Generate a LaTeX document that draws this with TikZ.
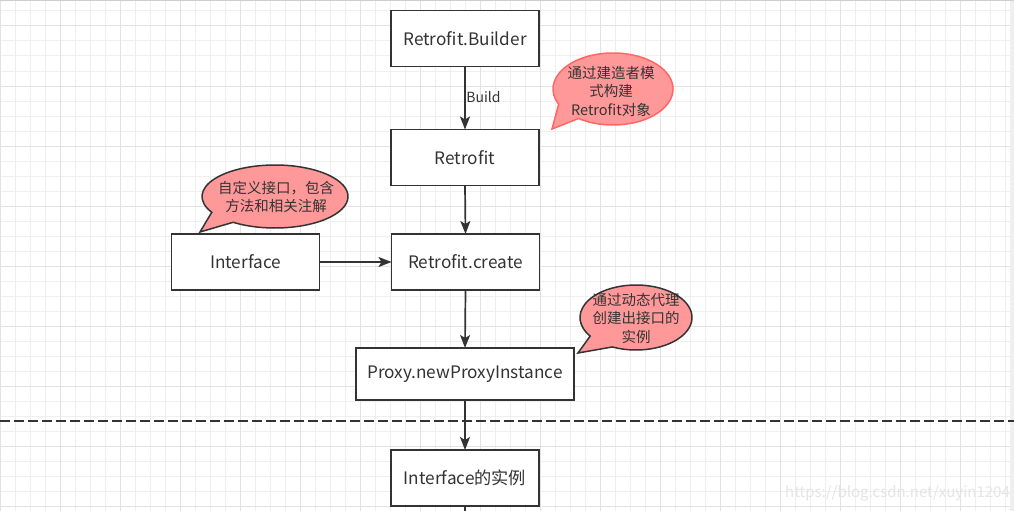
\documentclass[tikz,border=0pt]{standalone}
\usepackage{fontspec}
\setmainfont{Noto Sans CJK SC}
\usetikzlibrary{arrows.meta}
\definecolor{ink}{HTML}{333333}
\definecolor{gridminor}{HTML}{EFEFEF}
\definecolor{gridmajor}{HTML}{E2E2E2}
\definecolor{bubble}{HTML}{FF9999}
\definecolor{bubbleline}{HTML}{FF6666}
\tikzset{
  stepbox/.style={draw=ink, line width=1.8pt, fill=white, text=ink, outer sep=0pt,
    minimum width=148pt, minimum height=56pt, inner sep=0pt,
    font=\fontsize{17.2}{20}\selectfont},
  conn/.style={draw=ink, line width=1.7pt, -{Stealth[length=13pt,width=10pt,inset=3pt]}},
  plainconn/.style={draw=ink, line width=1.7pt},
  bubbleA/.style={fill=bubble, draw=bubbleline, line width=1.5pt},
  bubbleB/.style={fill=bubble, draw=ink, line width=1.5pt},
  calltext/.style={text=ink, align=center, inner sep=0pt,
    font=\fontsize{14.5}{18.5}\selectfont},
  gminor/.style={draw=gridminor, line width=1pt},
  gmajor/.style={draw=gridmajor, line width=1pt},
}
\begin{document}
\begin{tikzpicture}[x=1pt,y=1pt]
\path[use as bounding box] (0,0) rectangle (1014,-511);
\begin{scope}
\clip (0,0) rectangle (1014,-511);
\fill[white] (0,0) rectangle (1014,-511);
% grid
\foreach \x in {0,15,...,1005} \draw[gminor] (\x,0) -- (\x,-511);
\foreach \y in {11,26,...,506} \draw[gminor] (0,-\y) -- (1014,-\y);
\foreach \x in {0,60,...,960} \draw[gmajor] (\x,0) -- (\x,-511);
\foreach \y in {26,86,...,506} \draw[gmajor] (0,-\y) -- (1014,-\y);
\fill[gridminor] (1010,0) rectangle (1014,-511);
\draw[draw=gridmajor!80!gray, line width=1.5pt] (0,0) -- (1014,0);

% dashed separator
\coordinate (dl) at (0,-421);
\coordinate (dr) at (1014,-421);
\draw[draw=ink, line width=2pt, dash pattern=on 10pt off 4pt] (dl) -- (dr);

% boxes
\node[stepbox] (builder) at (465,-38.5) {Retrofit.Builder};
\node[stepbox] (retrofit) at (465,-157.5) {Retrofit};
\node[stepbox] (create) at (465.5,-262) {Retrofit.create};
\node[stepbox] (iface) at (245.5,-262) {Interface};
\node[stepbox, minimum width=218pt, minimum height=52pt] (proxy) at (465,-374) {Proxy.newProxyInstance};
\node[stepbox] (inst) at (465,-478) {Interface的实例};
\coordinate (below) at (465,-515);

% connectors
\draw[conn] (builder.south) -- node[right, text=ink, font=\fontsize{14}{16}\selectfont, inner sep=1pt, xshift=-0.5pt, yshift=1pt] (buildlbl) {Build} (retrofit.north);
\draw[conn] (retrofit.south) -- (create.north);
\draw[conn] (iface.east) -- (create.west);
\draw[conn] (create.south) -- (proxy.north);
\draw[conn] (proxy.south) -- (inst.north);
\draw[plainconn] (inst.south) -- (below);

% callout 1
\coordinate (c1) at (613,-89);
\coordinate (t1) at (552,-129);
\draw[bubbleA] ([shift={(235:60 and 36)}]c1) arc[start angle=235, end angle=565, x radius=60, y radius=36] -- (t1) -- cycle;
\node[calltext] (n1) at (611,-91) {通过建造者模\\式构建\\Retrofit对象};

% callout 2
\coordinate (c2) at (275,-196.5);
\coordinate (t2) at (200,-232);
\draw[bubbleB] ([shift={(235:73 and 31.5)}]c2) arc[start angle=235, end angle=570, x radius=73, y radius=31.5] -- (t2) -- cycle;
\node[calltext] (n2) at (276,-197) {自定义接口，包含\\方法和相关注解};

% callout 3
\coordinate (c3) at (636,-317.5);
\coordinate (t3) at (578,-353);
\draw[bubbleB] ([shift={(245:56 and 32.5)}]c3) arc[start angle=245, end angle=575, x radius=56, y radius=32.5] -- (t3) -- cycle;
\node[calltext] (n3) at (636,-318) {通过动态代理\\创建出接口的\\实例};

% watermark
\node[anchor=west, text=black!10, inner sep=0pt, font=\fontsize{15}{17}\selectfont] (wm) at (785,-493) {https://blog.csdn.net/xuyin1204};
\end{scope}
\end{tikzpicture}
\end{document}
